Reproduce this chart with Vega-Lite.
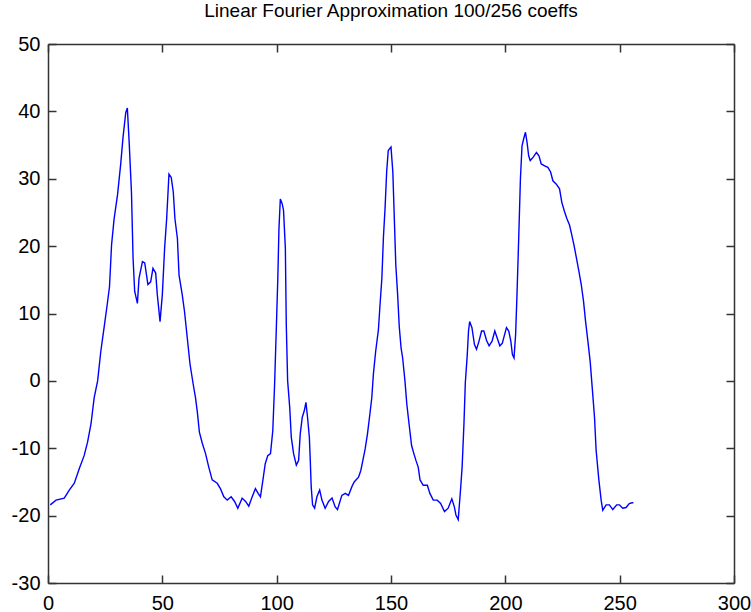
{
  "$schema": "https://vega.github.io/schema/vega-lite/v6.json",
  "autosize": {"type": "none"},
  "padding": {"left": 48, "top": 44, "right": 17, "bottom": 29},
  "width": 686,
  "height": 539,
  "background": "white",
  "title": {
    "text": "Linear Fourier Approximation 100/256 coeffs",
    "font": "Liberation Sans, Arial, sans-serif",
    "fontSize": 19,
    "fontWeight": "normal",
    "color": "#000000",
    "anchor": "middle",
    "offset": 13
  },
  "config": {
    "view": {"stroke": null},
    "axis": {
      "grid": false,
      "domainColor": "#333333",
      "domainWidth": 1.5,
      "tickColor": "#333333",
      "tickWidth": 1.5,
      "tickSize": -8,
      "labelFlush": false,
      "labelOverlap": false,
      "labelFont": "Liberation Sans, Arial, sans-serif",
      "labelFontSize": 20,
      "labelColor": "#000000",
      "labelExpr": "datum.value < 0 ? '-' + abs(datum.value) : '' + datum.value",
      "title": null
    }
  },
  "data": {
    "values": [
      {"n": 1, "value": -18.4}, {"n": 3.5, "value": -17.7}, {"n": 7.1, "value": -17.4}, {"n": 9.3, "value": -16.2},
      {"n": 11.5, "value": -15.2}, {"n": 13.7, "value": -13}, {"n": 15.8, "value": -11.1}, {"n": 17.3, "value": -9.1},
      {"n": 18.8, "value": -6.4}, {"n": 20.2, "value": -2.5}, {"n": 21.7, "value": 0}, {"n": 23.1, "value": 4.4},
      {"n": 24.6, "value": 8.1}, {"n": 26, "value": 11.6}, {"n": 26.9, "value": 14}, {"n": 27.8, "value": 20.2},
      {"n": 28.9, "value": 24}, {"n": 30.4, "value": 27.6}, {"n": 31.8, "value": 32.2}, {"n": 32.8, "value": 36.1},
      {"n": 34, "value": 39.8}, {"n": 34.7, "value": 40.5}, {"n": 35.5, "value": 35.4}, {"n": 36.5, "value": 28},
      {"n": 37.2, "value": 18.2}, {"n": 37.9, "value": 13.3}, {"n": 39.1, "value": 11.5}, {"n": 39.8, "value": 15.2},
      {"n": 41.3, "value": 17.7}, {"n": 42.3, "value": 17.5}, {"n": 43.7, "value": 14.3}, {"n": 44.9, "value": 14.7},
      {"n": 45.9, "value": 16.7}, {"n": 47.1, "value": 16}, {"n": 47.8, "value": 12.8}, {"n": 49, "value": 8.8},
      {"n": 50, "value": 12.8}, {"n": 51, "value": 19.7}, {"n": 51.9, "value": 24.1}, {"n": 52.9, "value": 30.7},
      {"n": 53.9, "value": 30.2}, {"n": 54.8, "value": 28}, {"n": 55.5, "value": 24.1}, {"n": 56.6, "value": 21.1},
      {"n": 57.3, "value": 15.7}, {"n": 58.7, "value": 12.8}, {"n": 59.7, "value": 10.3}, {"n": 60.9, "value": 6.4},
      {"n": 62.1, "value": 2.5}, {"n": 63.5, "value": -0.5}, {"n": 64.5, "value": -2.5}, {"n": 65.3, "value": -4.6},
      {"n": 66.2, "value": -7.6}, {"n": 67.5, "value": -9.3}, {"n": 68.9, "value": -10.8}, {"n": 70.3, "value": -12.8},
      {"n": 71.8, "value": -14.7}, {"n": 74, "value": -15.2}, {"n": 75.4, "value": -16}, {"n": 76.9, "value": -17.2},
      {"n": 78.4, "value": -17.7}, {"n": 80.1, "value": -17.2}, {"n": 81.6, "value": -17.9}, {"n": 83, "value": -18.9},
      {"n": 84.9, "value": -17.4}, {"n": 86.4, "value": -17.9}, {"n": 87.8, "value": -18.6}, {"n": 89.3, "value": -17.2},
      {"n": 90.7, "value": -16}, {"n": 91.9, "value": -16.7}, {"n": 92.9, "value": -17.2}, {"n": 94, "value": -14.7},
      {"n": 95, "value": -12.3}, {"n": 96.1, "value": -11.1}, {"n": 97.3, "value": -10.8}, {"n": 98.3, "value": -7.4},
      {"n": 99.1, "value": -0.5}, {"n": 99.9, "value": 8.4}, {"n": 100.5, "value": 15.2}, {"n": 101, "value": 22.6},
      {"n": 101.6, "value": 27}, {"n": 102.4, "value": 26.3}, {"n": 103, "value": 25.3}, {"n": 103.8, "value": 19.7},
      {"n": 104.2, "value": 8.4}, {"n": 104.8, "value": 0}, {"n": 105.7, "value": -3.9}, {"n": 106.4, "value": -8.4},
      {"n": 107.4, "value": -10.8}, {"n": 108.6, "value": -12.5}, {"n": 109.6, "value": -11.8}, {"n": 110.3, "value": -7.9},
      {"n": 111.2, "value": -5.4}, {"n": 112.1, "value": -4.4}, {"n": 112.8, "value": -3.2}, {"n": 113.5, "value": -5.4},
      {"n": 114.3, "value": -8.4}, {"n": 114.7, "value": -11.8}, {"n": 115.1, "value": -15.7}, {"n": 115.7, "value": -18.4},
      {"n": 116.6, "value": -18.9}, {"n": 117.6, "value": -17.2}, {"n": 118.8, "value": -16.2}, {"n": 119.8, "value": -17.7},
      {"n": 121.2, "value": -18.9}, {"n": 122.7, "value": -17.9}, {"n": 124.2, "value": -17.4}, {"n": 125.6, "value": -18.7},
      {"n": 126.6, "value": -19.1}, {"n": 128.5, "value": -17}, {"n": 130, "value": -16.7}, {"n": 131.4, "value": -17},
      {"n": 132.9, "value": -15.7}, {"n": 133.9, "value": -15}, {"n": 135.8, "value": -14.3}, {"n": 136.8, "value": -13.3},
      {"n": 137.7, "value": -11.8}, {"n": 138.7, "value": -10.1}, {"n": 139.7, "value": -7.9}, {"n": 140.6, "value": -5.4},
      {"n": 141.6, "value": -2.5}, {"n": 142.3, "value": 1}, {"n": 143.3, "value": 4.4}, {"n": 144.5, "value": 7.6},
      {"n": 145.2, "value": 11.3}, {"n": 146, "value": 15.2}, {"n": 146.7, "value": 21.4}, {"n": 147.4, "value": 25.6},
      {"n": 148.1, "value": 31}, {"n": 148.8, "value": 34.2}, {"n": 149.5, "value": 34.5}, {"n": 150, "value": 34.7},
      {"n": 150.8, "value": 31}, {"n": 151.5, "value": 23.6}, {"n": 152.1, "value": 17.2}, {"n": 152.9, "value": 12.8},
      {"n": 153.6, "value": 8.1}, {"n": 154.4, "value": 4.9}, {"n": 155.1, "value": 3.4}, {"n": 156.1, "value": 0},
      {"n": 156.9, "value": -3.4}, {"n": 157.9, "value": -6.4}, {"n": 159, "value": -9.6}, {"n": 160, "value": -10.8},
      {"n": 160.9, "value": -11.8}, {"n": 161.9, "value": -12.8}, {"n": 162.7, "value": -14.7}, {"n": 164.1, "value": -15.5},
      {"n": 165.9, "value": -15.5}, {"n": 167, "value": -16.7}, {"n": 168.5, "value": -17.7}, {"n": 170.2, "value": -17.7},
      {"n": 171.7, "value": -18.2}, {"n": 173.4, "value": -19.4}, {"n": 175, "value": -18.9}, {"n": 176.6, "value": -17.5},
      {"n": 177.7, "value": -18.7}, {"n": 178.4, "value": -19.9}, {"n": 179.4, "value": -20.6}, {"n": 180.4, "value": -16.2},
      {"n": 181.1, "value": -12.8}, {"n": 181.9, "value": -6.4}, {"n": 182.5, "value": -0.3}, {"n": 183.3, "value": 3.6},
      {"n": 183.9, "value": 7.4}, {"n": 184.4, "value": 8.8}, {"n": 185.4, "value": 7.9}, {"n": 186.5, "value": 5.4},
      {"n": 187.4, "value": 4.7}, {"n": 188.5, "value": 5.9}, {"n": 189.6, "value": 7.4}, {"n": 190.6, "value": 7.4},
      {"n": 191.8, "value": 6}, {"n": 192.9, "value": 5.2}, {"n": 194.2, "value": 5.9}, {"n": 195.4, "value": 7.4},
      {"n": 196.4, "value": 6.4}, {"n": 197.6, "value": 5.2}, {"n": 198.7, "value": 5.6}, {"n": 199.7, "value": 6.9},
      {"n": 200.5, "value": 7.9}, {"n": 201.5, "value": 7.4}, {"n": 202.4, "value": 5.9}, {"n": 203.1, "value": 3.9},
      {"n": 203.8, "value": 3.4}, {"n": 204.5, "value": 6.9}, {"n": 205.1, "value": 12.8}, {"n": 205.8, "value": 20.6},
      {"n": 206.6, "value": 30}, {"n": 207.3, "value": 34.9}, {"n": 208, "value": 35.9}, {"n": 208.8, "value": 36.9},
      {"n": 209.5, "value": 35.4}, {"n": 210.2, "value": 33.4}, {"n": 210.9, "value": 32.7}, {"n": 212.2, "value": 33.2},
      {"n": 213.6, "value": 33.9}, {"n": 214.7, "value": 33.4}, {"n": 215.7, "value": 32.2}, {"n": 217.2, "value": 31.9},
      {"n": 218.6, "value": 31.7}, {"n": 219.8, "value": 31}, {"n": 220.8, "value": 29.7}, {"n": 222.3, "value": 29.2},
      {"n": 223.7, "value": 28.5}, {"n": 224.7, "value": 26.5}, {"n": 225.9, "value": 25.1}, {"n": 226.9, "value": 24.1},
      {"n": 228.1, "value": 23.1}, {"n": 229.1, "value": 21.6}, {"n": 230, "value": 20.2}, {"n": 231, "value": 18.4},
      {"n": 232.2, "value": 16.2}, {"n": 233.2, "value": 14.3}, {"n": 234.2, "value": 11.8}, {"n": 235.1, "value": 8.8},
      {"n": 236.1, "value": 5.9}, {"n": 237.1, "value": 2.9}, {"n": 238, "value": -1}, {"n": 239, "value": -5.4},
      {"n": 239.7, "value": -10.3}, {"n": 240.9, "value": -14.7}, {"n": 241.9, "value": -17.7}, {"n": 242.6, "value": -19.2},
      {"n": 244.1, "value": -18.4}, {"n": 245.5, "value": -18.4}, {"n": 247, "value": -19.1}, {"n": 248.7, "value": -18.4},
      {"n": 249.9, "value": -18.4}, {"n": 251.3, "value": -18.9}, {"n": 252.8, "value": -18.8}, {"n": 254.2, "value": -18.2},
      {"n": 255.4, "value": -18.1}, {"n": 256, "value": -18.1}
    ]
  },
  "layer": [
    {
      "mark": {"type": "line", "color": "#0000ff", "strokeWidth": 1.4, "clip": true},
      "encoding": {
        "x": {"field": "n", "type": "quantitative", "scale": {"domain": [0, 300], "nice": false, "zero": false},
              "axis": {"orient": "bottom", "values": [0, 50, 100, 150, 200, 250, 300], "labelPadding": 18}},
        "y": {"field": "value", "type": "quantitative", "scale": {"domain": [-30, 50], "nice": false, "zero": false},
              "axis": {"orient": "left", "values": [-30, -20, -10, 0, 10, 20, 30, 40, 50], "labelPadding": 16}}
      }
    },
    {
      "mark": {"type": "line", "opacity": 0},
      "encoding": {
        "x": {"field": "n", "type": "quantitative",
              "axis": {"orient": "top", "values": [0, 50, 100, 150, 200, 250, 300], "labels": false}},
        "y": {"field": "value", "type": "quantitative",
              "axis": {"orient": "right", "values": [-30, -20, -10, 0, 10, 20, 30, 40, 50], "labels": false}}
      }
    }
  ],
  "resolve": {"axis": {"x": "independent", "y": "independent"}}
}
